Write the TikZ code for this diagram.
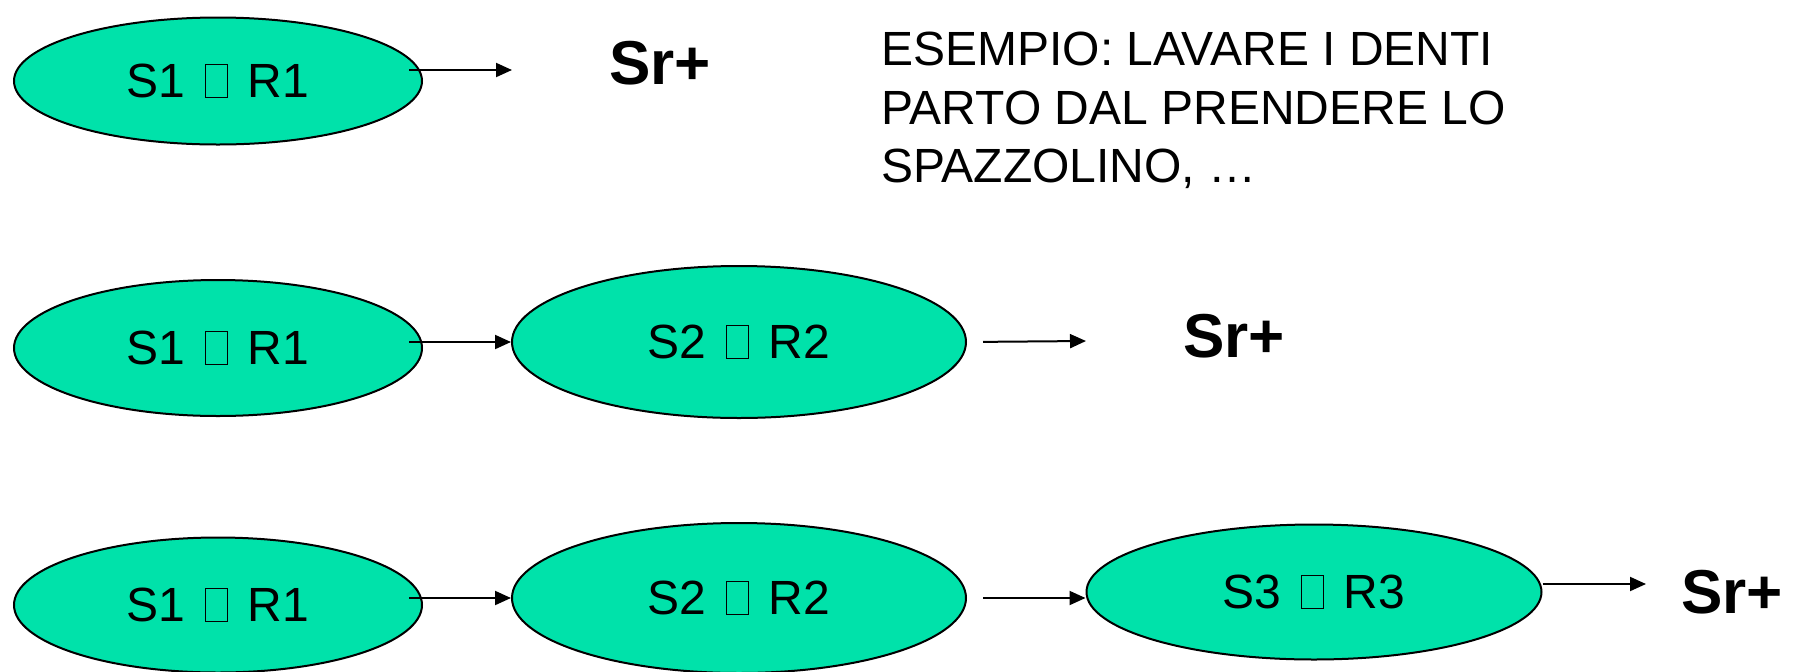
\documentclass[tikz,border=0pt]{standalone}
\usepackage{fontspec}
\setmainfont{Liberation Sans}
\usetikzlibrary{shapes.geometric,arrows.meta}
\definecolor{verde}{RGB}{0,226,170}
\newcommand{\vuoto}{\kern.13em{\setlength{\fboxsep}{0pt}\setlength{\fboxrule}{.5pt}\fbox{\rule{0pt}{.68em}\hspace{.44em}}}\kern.13em}
\begin{document}
\begin{tikzpicture}[x=.5pt,y=-.5pt,
  stato/.style={ellipse,draw,line width=1pt,fill=verde,inner sep=0pt,font=\fontsize{24}{29}\selectfont},
  freccia/.style={-{Triangle[length=8pt,width=7pt]},line width=1pt},
  rinforzo/.style={inner sep=0pt,font=\fontsize{31}{37}\selectfont\bfseries}]
\useasboundingbox (0,0) rectangle (1796,671);
\node[stato,minimum width=204pt,minimum height=63.5pt] (r1a) at (218,81) {S1 \vuoto{} R1};
\node[stato,minimum width=204pt,minimum height=68pt] (r2a) at (218,348) {S1 \vuoto{} R1};
\node[stato,minimum width=227pt,minimum height=76pt] (r2b) at (739,342) {S2 \vuoto{} R2};
\node[stato,minimum width=204pt,minimum height=67.5pt] (r3a) at (218,605) {S1 \vuoto{} R1};
\node[stato,minimum width=227pt,minimum height=75pt] (r3b) at (739,598) {S2 \vuoto{} R2};
\node[stato,minimum width=227.5pt,minimum height=67.5pt] (r3c) at (1314,592) {S3 \vuoto{} R3};
\node[rinforzo] (sr1) at (660,63) {Sr+};
\node[rinforzo] (sr2) at (1234,336) {Sr+};
\node[rinforzo] (sr3) at (1732,592) {Sr+};
\node[anchor=north west,inner sep=0pt,align=left,font=\fontsize{24}{29.25}\selectfont] (esempio) at (881,32)
  {ESEMPIO: LAVARE I DENTI\\PARTO DAL PRENDERE LO\\SPAZZOLINO, …};
\coordinate (r1fine) at (512,70);
\coordinate (r2fine) at (1086,341);
\coordinate (r3fine) at (1646,584);
\draw[freccia,shorten <=-7pt] (r1a.east |- r1fine) -- (r1fine);
\draw[freccia,shorten <=-7pt] (r2a.east |- r2b.west) -- (r2b.west);
\draw[freccia,shorten <=8pt] (r2b.east) -- (r2fine);
\draw[freccia,shorten <=-7pt] (r3a.east |- r3b.west) -- (r3b.west);
\draw[freccia,shorten <=8pt] (r3b.east) -- (r3b.east -| r3c.west);
\draw[freccia] (r3c.east |- r3fine) -- (r3fine);
\end{tikzpicture}
\end{document}
